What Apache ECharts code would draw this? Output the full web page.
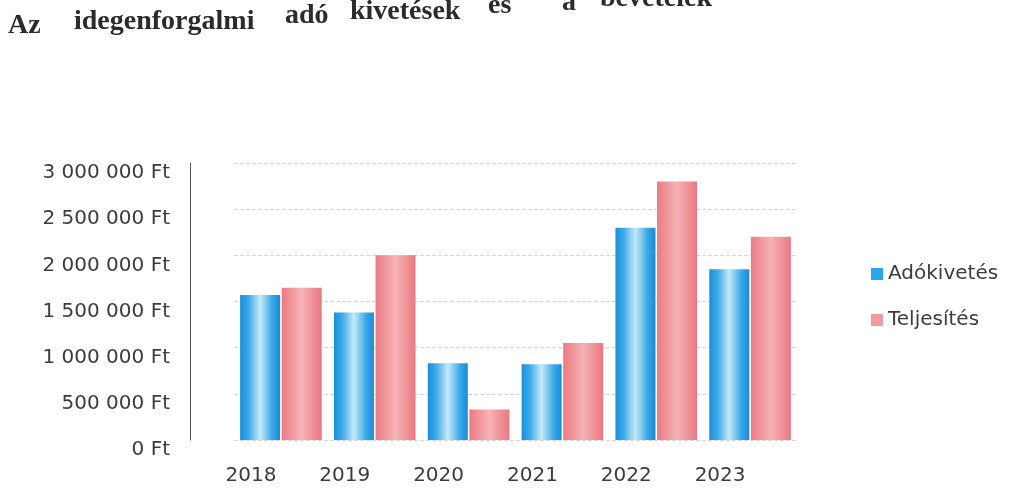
<!DOCTYPE html>
<html><head><meta charset="utf-8">
<script src="https://cdn.jsdelivr.net/npm/echarts@6/dist/echarts.min.js"></script>
<style>html,body{margin:0;padding:0;background:#fff}#c{width:1020px;height:491px}</style>
</head><body><div id="c"></div>
<script>
const categories = ['2018','2019','2020','2021','2022','2023'];
const adokivetes = [1570000, 1380000, 830000, 820000, 2300000, 1850000];
const teljesites = [1650000, 2000000, 330000, 1050000, 2800000, 2200000];
const titleWords = ['Az','idegenforgalmi','adó','kivetések','és','a','bevételek'];
const seriesNames = ['Adókivetés','Teljesítés'];

const wordPos = [[8,26],[74,22],[285,16],[350,12],[488,6],[562,3],[600,-1]];
const fmt = v => String(v).replace(/\B(?=(\d{3})+(?!\d))/g, ' ') + ' Ft';
const blueGrad = {type:'linear',x:0,y:0,x2:1,y2:0,colorStops:[
  {offset:0,color:'#1a8fdc'},{offset:0.2,color:'#3aa9e8'},{offset:0.5,color:'#c4e9f7'},{offset:0.8,color:'#3aa9e8'},{offset:1,color:'#1a8ad6'}]};
const redGrad = {type:'linear',x:0,y:0,x2:1,y2:0,colorStops:[
  {offset:0,color:'#ec7a83'},{offset:0.5,color:'#f5b3b5'},{offset:1,color:'#ea7880'}]};

const chart = echarts.init(document.getElementById('c'));
chart.setOption({
  backgroundColor:'#fff',
  animation:false,
  graphic: titleWords.map((w,i)=>({type:'text',left:wordPos[i][0],top:wordPos[i][1]-14,
    style:{text:w,font:'bold 28px "Liberation Serif"',fill:'#2b2b2b'}})),
  legend:{orient:'vertical',left:866,top:257,itemWidth:12,itemHeight:12,itemGap:22,
    icon:'rect',
    textStyle:{fontFamily:'DejaVu Sans',fontSize:20,color:'#3c3c3c',lineHeight:24},
    data:[{name:seriesNames[0],itemStyle:{color:'#2aa6ec'}},{name:seriesNames[1],itemStyle:{color:'#f29aa0'}}]},
  grid:{left:234,right:223,top:163,bottom:51},
  xAxis:{type:'category',data:categories,
    axisLine:{show:false},axisTick:{show:false},
    axisLabel:{fontFamily:'DejaVu Sans',fontSize:20,color:'#3c3c3c',margin:26,padding:[0,60,0,0]}},
  yAxis:{type:'value',min:0,max:3000000,interval:500000,offset:44,
    axisLine:{show:true,lineStyle:{color:'#555',width:1}},
    axisTick:{show:false},
    splitLine:{lineStyle:{color:'#d6d6d6',type:'dashed',width:1}},
    axisLabel:{formatter:fmt,fontFamily:'DejaVu Sans',fontSize:20,color:'#3c3c3c',margin:20,verticalAlign:'top',padding:[0,0,0,0]}},
  series:[
    {name:seriesNames[0],type:'bar',data:adokivetes,barWidth:40,barGap:'4%',
      itemStyle:{color:blueGrad}},
    {name:seriesNames[1],type:'bar',data:teljesites,barWidth:40,
      itemStyle:{color:redGrad}}
  ]
});
</script></body></html>
